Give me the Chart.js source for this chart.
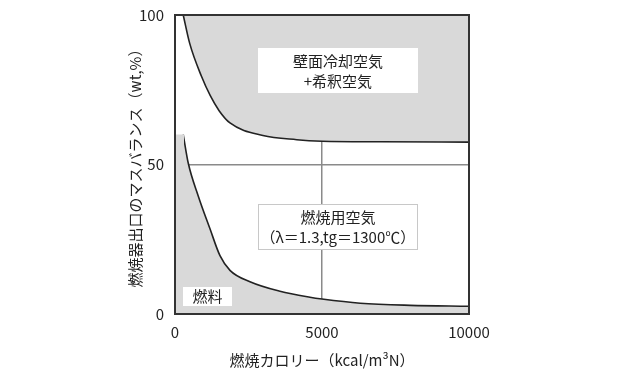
<!DOCTYPE html>
<html><head><meta charset="utf-8">
<script src="https://cdn.jsdelivr.net/npm/chart.js@4/dist/chart.umd.min.js"></script>
<style>html,body{margin:0;padding:0;background:#fff;}#wrap{width:640px;height:380px;}</style>
</head><body><div id="wrap"><canvas id="c" width="640" height="380"></canvas></div>
<script>
// Data
const upperX = [280, 500, 900, 1200, 1500, 1870, 2990, 4140, 5000, 7000, 10000];
const upperY = [100, 90.5, 79.5, 73, 68, 63.9, 59.7, 58.3, 57.8, 57.6, 57.5];
const lowerX = [280, 450, 790, 1190, 1530, 1870, 2550, 3570, 4590, 5000, 6300, 8000, 10000];
const lowerY = [60, 50.5, 39.5, 28.5, 19.5, 14.6, 10.8, 7.6, 5.6, 5.0, 3.6, 2.9, 2.6];
const fuelBlockX = [0, 310];
const fuelBlockY = [60, 60];
const xTicks = [0, 5000, 10000];
const yTicks = [0, 50, 100];
const labels = [
  {lines: ['壁面冷却空気', '+希釈空気'], x: 5540, y: 81.3, w: 160, h: 45, border: false},
  {lines: ['燃焼用空気', '（λ＝1.3,tg＝1300℃）'], x: 5540, y: 29.1, w: 160, h: 46, border: true},
  {lines: ['燃料'], x: 1105, y: 5.9, w: 49, h: 19, border: false}
];
const xTitle = '燃焼カロリー（kcal/m³N）';
const yTitle = '燃焼器出口のマスバランス（wt,%）';

const FONT = '"Noto Sans CJK JP", "Noto Sans", sans-serif';
const GRAY = '#d9d9d9';
const pts = (xs, ys) => xs.map((x, i) => ({x: x, y: ys[i]}));

const boxPlugin = {
  id: 'boxes',
  afterDatasetsDraw(chart) {
    const ctx = chart.ctx, xs = chart.scales.x, ys = chart.scales.y;
    ctx.save();
    labels.forEach(l => {
      const cx = xs.getPixelForValue(l.x), cy = ys.getPixelForValue(l.y);
      const x0 = Math.round(cx - l.w / 2), y0 = Math.round(cy - l.h / 2);
      ctx.fillStyle = '#fff';
      ctx.fillRect(x0, y0, l.w, l.h);
      if (l.border) { ctx.strokeStyle = '#c8c8c8'; ctx.lineWidth = 1; ctx.strokeRect(x0 + 0.5, y0 + 0.5, l.w - 1, l.h - 1); }
      ctx.fillStyle = '#222';
      ctx.font = '15px ' + FONT;
      ctx.textAlign = 'center'; ctx.textBaseline = 'middle';
      const lh = 20;
      l.lines.forEach((t, i) => {
        ctx.fillText(t, cx, cy + (i - (l.lines.length - 1) / 2) * lh);
      });
    });
    const a = chart.chartArea;
    ctx.strokeStyle = '#333'; ctx.lineWidth = 2;
    ctx.strokeRect(a.left, a.top, a.right - a.left, a.bottom - a.top);
    ctx.restore();
  }
};

new Chart(document.getElementById('c'), {
  type: 'line',
  data: {
    datasets: [
      {data: pts(fuelBlockX, fuelBlockY), borderWidth: 0, borderColor: 'rgba(0,0,0,0)', backgroundColor: GRAY, fill: 'origin', pointRadius: 0},
      {data: pts(lowerX, lowerY), borderColor: '#222', borderWidth: 1.6, backgroundColor: GRAY, fill: 'origin', pointRadius: 0, cubicInterpolationMode: 'monotone'},
      {data: pts(upperX, upperY), borderColor: '#222', borderWidth: 1.6, backgroundColor: GRAY, fill: 'end', pointRadius: 0, cubicInterpolationMode: 'monotone'}
    ]
  },
  options: {
    responsive: false, animation: false,
    layout: {padding: {left: 122, right: 171, top: 15, bottom: 7}},
    plugins: {legend: {display: false}, tooltip: {enabled: false}},
    scales: {
      x: {
        type: 'linear', min: 0, max: 10000,
        afterBuildTicks: s => { s.ticks = xTicks.map(v => ({value: v})); },
        afterFit: s => { s.height = 59; s.paddingLeft = 0; s.paddingRight = 0; },
        border: {display: false},
        grid: {drawTicks: false, lineWidth: 1.5, color: c => c.tick && c.tick.value === 5000 ? '#8a8a8a' : 'rgba(0,0,0,0)'},
        ticks: {padding: 9, color: '#222', font: {family: FONT, size: 15}, maxRotation: 0, callback: v => String(v)},
        title: {display: true, text: xTitle, color: '#222', font: {family: FONT, size: 15}, padding: {top: 4, bottom: 4}}
      },
      y: {
        min: 0, max: 100,
        afterBuildTicks: s => { s.ticks = yTicks.map(v => ({value: v})); },
        afterFit: s => { s.width = 53; s.paddingTop = 0; s.paddingBottom = 0; },
        border: {display: false},
        grid: {drawTicks: false, lineWidth: 1.5, color: c => c.tick && c.tick.value === 50 ? '#8a8a8a' : 'rgba(0,0,0,0)'},
        ticks: {padding: 11, color: '#222', font: {family: FONT, size: 15}, callback: v => String(v)},
        title: {display: true, text: yTitle, color: '#222', font: {family: FONT, size: 15}, padding: {top: 4, bottom: 4}}
      }
    }
  },
  plugins: [boxPlugin]
});
</script></body></html>
